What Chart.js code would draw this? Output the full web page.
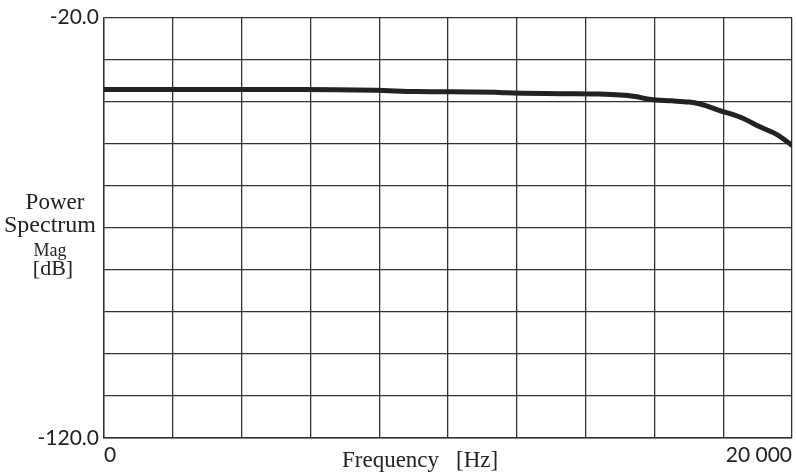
<!DOCTYPE html>
<html lang="en">
<head>
    <meta charset="UTF-8">
    <title>Power Spectrum</title>
    <script src="https://cdn.jsdelivr.net/npm/chart.js"></script>
    <style>
        html, body { margin: 0; padding: 0; background: #fff; }
        .chart-container { position: relative; width: 797px; height: 475px; }
    </style>
</head>
<body>
    <div class="chart-container">
        <canvas id="spectrumChart" width="797" height="475"></canvas>
    </div>

    <script>
        // data (Hz, dB)
        const frequency = [0, 3000, 5700, 7900, 9100, 11500, 11700, 13300, 14400, 15000, 15400, 15900, 16500, 17000, 17300, 17900, 18500, 19100, 19600, 20000];
        const magnitude = [-37.1, -37.1, -37.1, -37.3, -37.6, -37.8, -37.9, -38.1, -38.2, -38.4, -38.7, -39.5, -39.8, -40.1, -40.5, -42.1, -43.7, -46.1, -48.0, -50.4];

        const xTicks = { 0: '0', 20000: '20 000' };
        const yTicks = { '-20': '-20.0', '-120': '-120.0' };

        const serif = '"Liberation Serif", "DejaVu Serif", serif';
        const sans = 'Lato, "DejaVu Sans", sans-serif';

        // axis titles are horizontal and stacked, so draw them by hand
        const axisTitles = {
            id: 'axisTitles',
            afterDraw(chart) {
                const ctx = chart.ctx;
                ctx.save();
                ctx.fillStyle = '#222';
                ctx.textBaseline = 'alphabetic';
                ctx.font = '23px ' + serif;
                ctx.textAlign = 'left';
                ctx.fillText('Frequency', 342, 467);
                ctx.fillText('[Hz]', 456, 467);
                ctx.textAlign = 'center';
                ctx.fillText('Power', 55, 209);
                ctx.font = '24px ' + serif;
                ctx.fillText('Spectrum', 50, 232);
                ctx.font = '18px ' + serif;
                ctx.fillText('Mag', 50, 256);
                ctx.font = '22px ' + serif;
                ctx.fillText('[dB]', 53, 275);
                ctx.restore();
            }
        };

        const points = frequency.map((f, i) => ({ x: f, y: magnitude[i] }));

        new Chart(document.getElementById('spectrumChart'), {
            type: 'line',
            data: {
                datasets: [{
                    data: points,
                    borderColor: '#222',
                    borderWidth: 5,
                    pointRadius: 0,
                    cubicInterpolationMode: 'monotone'
                }]
            },
            options: {
                responsive: false,
                animation: false,
                layout: { padding: { top: 17, right: 5, left: 0, bottom: 0 } },
                plugins: {
                    legend: { display: false },
                    tooltip: { enabled: false }
                },
                scales: {
                    x: {
                        type: 'linear',
                        min: 0,
                        max: 20000,
                        afterFit(scale) { scale.height = 37; },
                        border: { color: '#333', width: 1.4 },
                        grid: { color: '#333', lineWidth: 1.3, drawTicks: false },
                        ticks: {
                            stepSize: 2000,
                            autoSkip: false,
                            maxRotation: 0,
                            align: 'inner',
                            padding: 5,
                            color: '#222',
                            font: { family: sans, size: 21 },
                            callback: v => xTicks[v] || ''
                        }
                    },
                    y: {
                        min: -120,
                        max: -20,
                        afterFit(scale) { scale.width = 104; },
                        border: { color: '#333', width: 1.4 },
                        grid: { color: '#333', lineWidth: 1.3, drawTicks: false },
                        ticks: {
                            stepSize: 10,
                            autoSkip: false,
                            padding: 5,
                            color: '#222',
                            font: { family: sans, size: 21 },
                            callback: v => yTicks[String(v)] || ''
                        }
                    }
                }
            },
            plugins: [axisTitles]
        });
    </script>
</body>
</html>
